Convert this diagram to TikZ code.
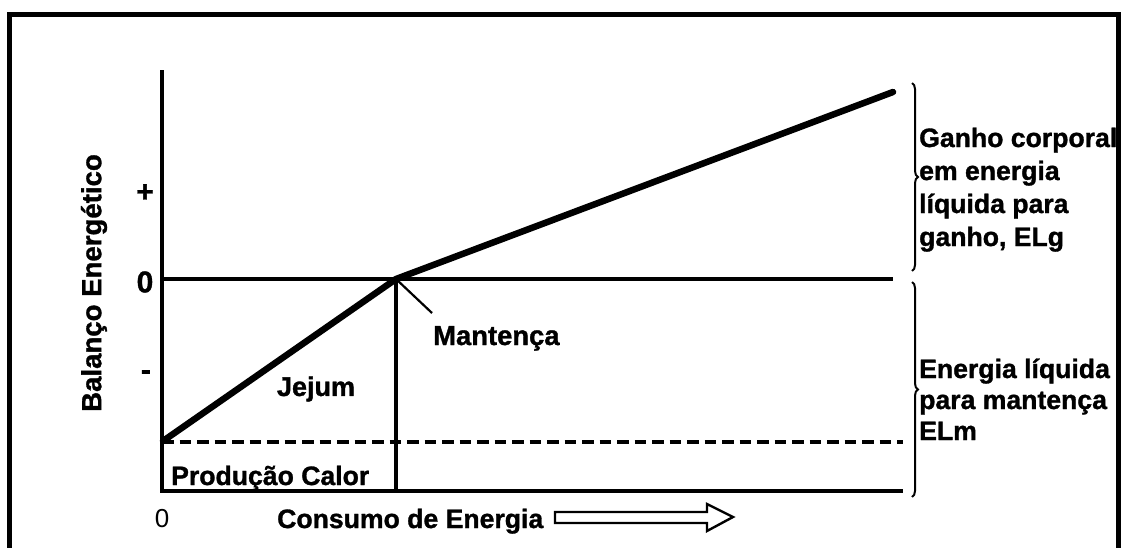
\documentclass[tikz,border=0pt]{standalone}
\usepackage{fontspec}
\setmainfont{Liberation Sans}[BoldFeatures={FakeBold=1.2}]
\usetikzlibrary{decorations.pathreplacing}
\begin{document}
\begin{tikzpicture}[x=1pt,y=-1pt,
  lbl/.style={font=\fontsize{26.6}{33}\selectfont\bfseries, inner sep=0pt},
  axisline/.style={line width=3.2pt},
  curveline/.style={line width=6.5pt, line join=round, line cap=round},
  pointer/.style={line width=2.2pt},
  bracestyle/.style={decorate, decoration={brace, amplitude=6pt}, line width=2pt},
  hollow/.style={line width=2.4pt, line join=miter}]
\useasboundingbox (0,0) rectangle (1121,547);
\clip (0,0) rectangle (1121,547);
\fill[white] (0,0) rectangle (1121,547);
\draw[line width=5pt] (9.5,14.5) rectangle (1118.5,570);

% key points
\coordinate (ytop) at (162,70);
\coordinate (origin) at (162,491);
\coordinate (zeroL) at (162,279);
\coordinate (zeroR) at (893,279);
\coordinate (botR) at (903,491);
\coordinate (dashL) at (162,442);
\coordinate (dashR) at (903,442);
\coordinate (maint) at (396,279);
\coordinate (maintB) at (396,491);
\coordinate (start) at (163,441);
\coordinate (gainEnd) at (893,92);
\coordinate (ptrEnd) at (432,313);

\draw[axisline] (ytop) -- (origin) -- (botR);
\draw[axisline] (zeroL) -- (zeroR);
\draw[axisline, dash pattern=on 11.5pt off 6pt] (dashL) -- (dashR);
\draw[axisline] (maint) -- (maintB);
\draw[curveline] (start) -- (maint) -- (gainEnd);
\draw[pointer] (maint) -- (ptrEnd);

% braces
\coordinate (b1t) at (912,83);
\coordinate (b1b) at (912,271);
\coordinate (b2t) at (912,282);
\coordinate (b2b) at (912,497);
\draw[bracestyle] (b1t) -- (b1b);
\draw[bracestyle] (b2t) -- (b2b);

% labels
\node[lbl, anchor=base west, align=left] (ganho) at (919,246)
  {Ganho corporal\\em energia\\líquida para\\ganho, ELg};
\node[lbl, anchor=base west, align=left, font=\fontsize{26.6}{31}\selectfont\bfseries] (elm) at (919,440)
  {Energia líquida\\para mantença\\ELm};
\node[lbl, rotate=90, font=\fontsize{27.6}{30}\selectfont\bfseries] (ylab) at (94,283) {Balanço Energético};
\node[lbl, font=\fontsize{30}{30}\selectfont\bfseries] (plus) at (145,193) {+};
\node[lbl, font=\fontsize{30}{30}\selectfont\bfseries] (zero) at (145,282) {0};
\node[lbl, font=\fontsize{30}{30}\selectfont\bfseries] (minus) at (146,375) {-};
\node[lbl, font=\fontsize{27}{30}\selectfont\bfseries] (jejum) at (316,389) {Jejum};
\node[lbl, anchor=base west, font=\fontsize{27.4}{30}\selectfont\bfseries] (mant) at (433,345) {Mantença};
\node[lbl, anchor=base west] (calor) at (171,485) {Produção Calor};
\node[lbl, font=\fontsize{26}{30}\selectfont] (xzero) at (162,519) {0};
\node[lbl, anchor=base west] (xlab) at (277,528) {Consumo de Energia};

% hollow arrow
\draw[hollow] (555,512) -- (707,512) -- (707,504) -- (733,517) -- (707,531) -- (707,523) -- (555,523) -- cycle;
\end{tikzpicture}
\end{document}
